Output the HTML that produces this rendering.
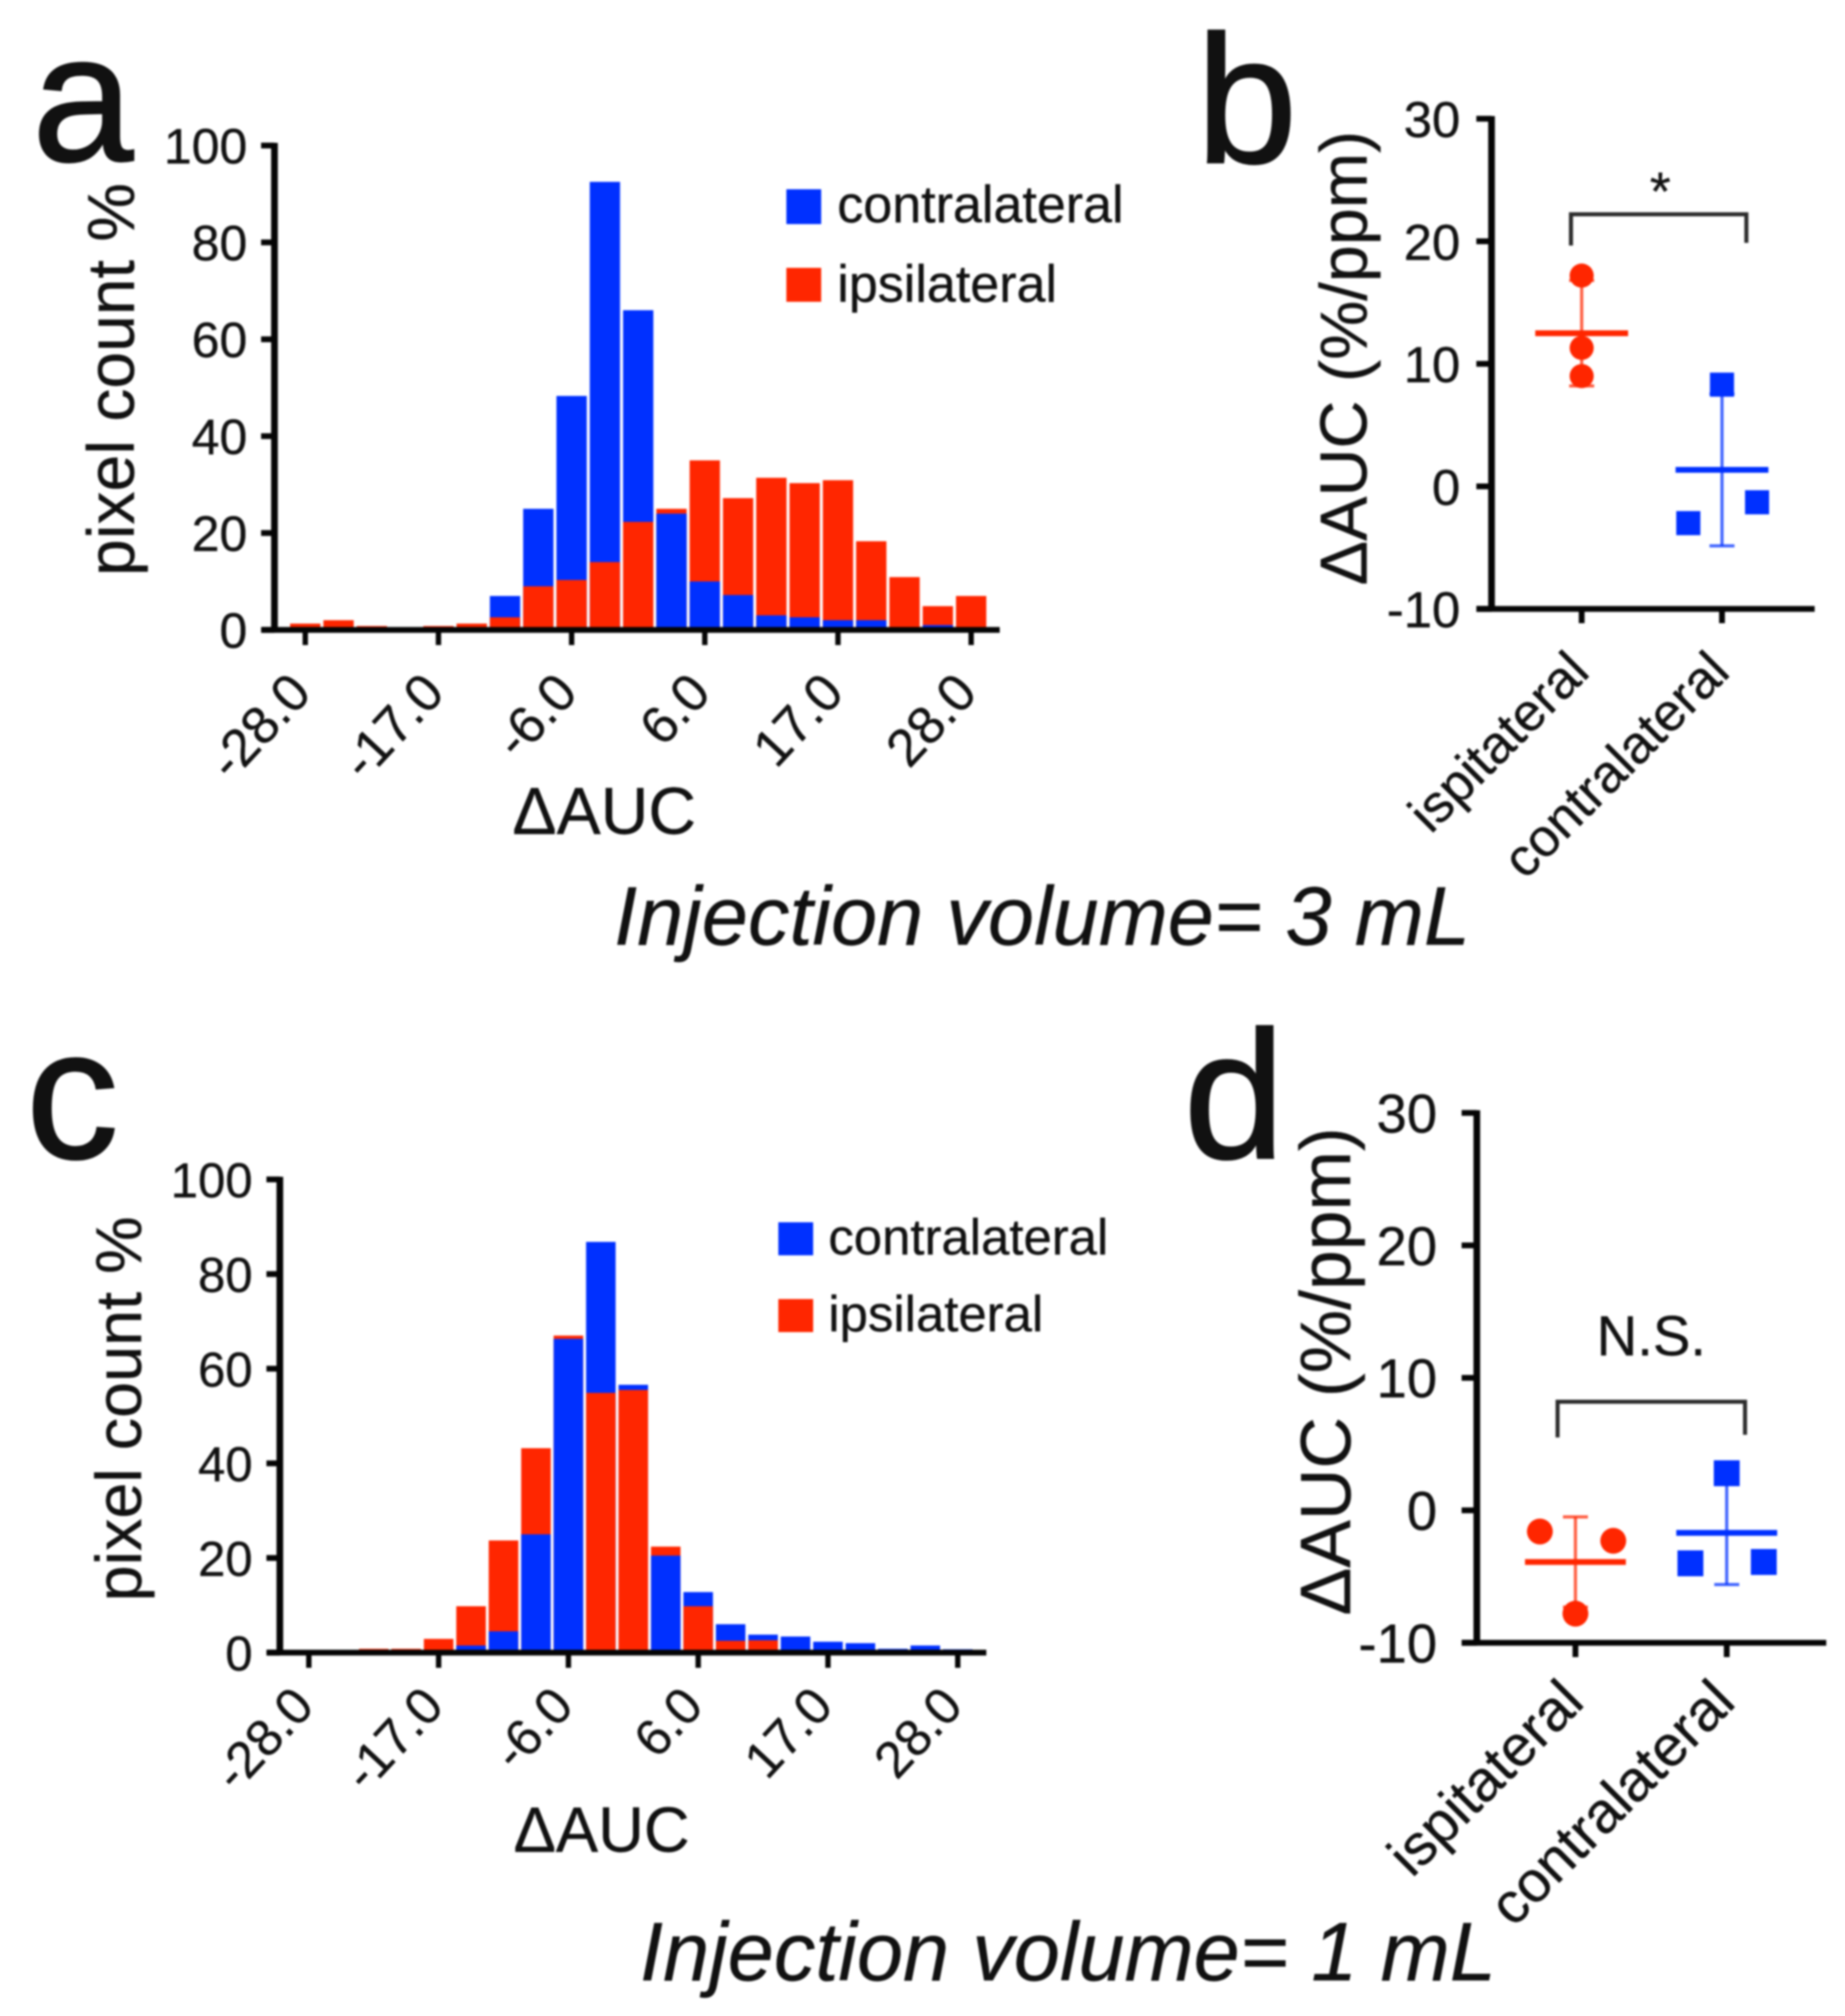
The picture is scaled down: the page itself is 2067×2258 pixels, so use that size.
<!DOCTYPE html>
<html lang="en">
<head>
<meta charset="utf-8">
<title>Injection volume AUC figure</title>
<style>
html,body{margin:0;padding:0;background:#fff;}
svg{display:block;filter:blur(1px);}
text{font-family:"Liberation Sans",sans-serif;fill:#111;stroke:#111;stroke-width:.4px;}
text.big{stroke-width:2px;}
</style>
</head>
<body>
<svg id="fig" xmlns="http://www.w3.org/2000/svg" width="2067" height="2258" viewBox="0 0 2067 2258">
  <rect x="0" y="0" width="2067" height="2258" fill="#fff"/>

  <text class="big" x="36" y="180" font-size="204">a</text>
  <text class="big" x="1340" y="182" font-size="204">b</text>
  <text class="big" x="29" y="1297" font-size="208">c</text>
  <text class="big" x="1326" y="1297" font-size="204">d</text>

  <g id="panel-a"></g>
  <g id="panel-b"></g>
  <g id="panel-c"></g>
  <g id="panel-d"></g>

  <text transform="translate(150,425) rotate(-90)" text-anchor="middle" font-size="74">pixel count %</text>
  <text x="677" y="934" text-anchor="middle" font-size="74">ΔAUC</text>
  <text transform="translate(158,1578) rotate(-90)" text-anchor="middle" font-size="72.5">pixel count %</text>
  <text x="674" y="2074" text-anchor="middle" font-size="71">ΔAUC</text>
  <text transform="translate(1531,401) rotate(-90)" text-anchor="middle" font-size="74.5">ΔAUC (%/ppm)</text>
  <text transform="translate(1512.5,1536) rotate(-90)" text-anchor="middle" font-size="80">ΔAUC (%/ppm)</text>

  <g>
    <rect x="881" y="212" width="39" height="39" fill="#0030ff"/>
    <text x="938" y="249" font-size="58.3">contralateral</text>
    <rect x="881" y="300" width="39" height="38" fill="#ff2600"/>
    <text x="938" y="338" font-size="58.3">ipsilateral</text>
  </g>
  <g>
    <rect x="872" y="1369" width="39" height="37" fill="#0030ff"/>
    <text x="928" y="1405" font-size="57">contralateral</text>
    <rect x="872" y="1455" width="39" height="37" fill="#ff2600"/>
    <text x="928" y="1491" font-size="57">ipsilateral</text>
  </g>

  <path d="M1760 275V240H1956.5V272" fill="none" stroke="#2a2a2a" stroke-width="4.5"/>
  <text x="1860" y="235" text-anchor="middle" font-size="60">*</text>
  <path d="M1745 1610V1570H1955V1607" fill="none" stroke="#2a2a2a" stroke-width="4.5"/>
  <text x="1850" y="1518" text-anchor="middle" font-size="63">N.S.</text>

  <text x="688" y="1058" font-size="93" font-style="italic">Injection volume= 3 mL</text>
  <text x="717" y="2218" font-size="93" font-style="italic">Injection volume= 1 mL</text>
</svg>

<script>
// ---------- histogram data ----------
const histCategories = [-28,-25,-22,-20,-17,-14,-11,-9,-6,-3,0,3,6,9,11,14,17,20,22,25,28];
const histTickValues = [-28,-17,-6,6,17,28];
const histTickLabels = ['-28.0','-17.0','-6.0','6.0','17.0','28.0'];
const histYTicks = [0,20,40,60,80,100];
const panelAContra = [0,0,0,0,0,0,7,25,48.3,92.5,66,24,10,7.2,3,2.6,2,2,0,1,0];
const panelAIpsi   = [1.3,2,0.8,0,0.8,1.3,2.6,9,10.3,14,22.3,25,35,27.2,31.4,30.3,30.9,18.3,10.9,4.9,7];
const panelCContra = [0,0,0,0,0.5,1.5,4.5,25,66.3,86.8,56.6,20.5,12.8,6,3.8,3.4,2.3,2,0.8,1.5,0.7];
const panelCIpsi   = [0,0,0.8,0.8,2.9,9.8,23.7,43.2,67,54.9,55.5,22.4,9.8,2.5,2.6,0,0,0,0,0,0];

// ---------- scatter data ----------
const scatterGroups = ['ispitateral','contralateral'];
const scatterYTicks = [-10,0,10,20,30];
const panelBIpsiValues = [17.2,11.3,9];
const panelBIpsiJitter = [0,0,0];
const panelBIpsiStats = [12.5,4.3];
const panelBContraValues = [8.3,-3,-1.3];
const panelBContraJitter = [0,-0.24,0.25];
const panelBContraStats = [1.35,6.2];
const panelDIpsiValues = [-1.6,-2.3,-7.8];
const panelDIpsiJitter = [-0.235,0.25,0];
const panelDIpsiStats = [-3.9,3.4];
const panelDContraValues = [2.8,-4,-3.9];
const panelDContraJitter = [0,-0.24,0.245];
const panelDContraStats = [-1.7,3.9];

const NS = 'http://www.w3.org/2000/svg';
const BLUE = '#0030ff';
const RED = '#ff2600';
const INK = '#050505';

function linear(d0, d1, r0, r1) {
  return function (v) { return r0 + (v - d0) * (r1 - r0) / (d1 - d0); };
}
function make(tag, parent, attrs, content) {
  const n = document.createElementNS(NS, tag);
  Object.keys(attrs).forEach(function (k) { n.setAttribute(k, attrs[k]); });
  if (content !== undefined) n.textContent = content;
  parent.appendChild(n);
  return n;
}

function drawHistogram(g, contra, ipsi, o) {
  const y = linear(0, 100, o.y0, o.y100);
  const x = function (cat) { return o.x0 + o.step * histCategories.indexOf(cat); };
  const barW = o.step * 0.91;

  histCategories.forEach(function (cat, i) {
    const series = [
      { v: contra[i], color: BLUE, nm: 'bar-contralateral' },
      { v: ipsi[i], color: RED, nm: 'bar-ipsilateral' }
    ].sort(function (p, q) { return q.v - p.v; });
    series.forEach(function (s) {
      if (s.v <= 0) return;
      const r = make('rect', g, {
        x: x(cat) - barW / 2,
        y: y(s.v),
        width: barW,
        height: y(0) - y(s.v),
        fill: s.color
      });
      
      
    });
  });

  const yAxis = make('line', g, { x1: o.axisX, x2: o.axisX, y1: o.y100 - 3, y2: o.y0, stroke: INK, 'stroke-width': 7.5 });
  
  
  const xAxis = make('line', g, { x1: o.axisX - 14, x2: o.xEnd, y1: o.y0, y2: o.y0, stroke: INK, 'stroke-width': 6.5 });
  
  

  histYTicks.forEach(function (t) {
    const m = make('line', g, { x1: o.axisX - 15, x2: o.axisX, y1: y(t), y2: y(t), stroke: INK, 'stroke-width': 6.5 });
    
    
    const l = make('text', g, { x: o.labelRight, y: y(t) + o.fs * 0.36, 'text-anchor': 'end', 'font-size': o.fs }, String(t));
    
    
  });
  histTickValues.forEach(function (t, i) {
    const px = x(t);
    const m = make('line', g, { x1: px, x2: px, y1: o.y0, y2: o.y0 + 17, stroke: INK, 'stroke-width': 6 });
    
    
    const l = make('text', g, {
      transform: 'translate(' + (px + o.labelDx) + ',' + o.labelY + ') rotate(-47)',
      'text-anchor': 'end',
      'font-size': o.tickFs
    }, histTickLabels[i]);
    
    
  });
}

function drawGroup(g, values, jitter, stats, groupIndex, kind, o, y) {
  const color = kind === 'circle' ? RED : BLUE;
  const cx = o.x0 + o.band * groupIndex;
  const half = o.meanHalf;
  const stem = make('line', g, { x1: cx, x2: cx, y1: y(stats[0] + stats[1]), y2: y(stats[0] - stats[1]), stroke: color, 'stroke-width': 3.5, 'stroke-opacity': 0.75 });
  
  
  [stats[0] + stats[1], stats[0] - stats[1]].forEach(function (v) {
    const cap = make('line', g, { x1: cx - 14, x2: cx + 14, y1: y(v), y2: y(v), stroke: color, 'stroke-width': 3.5, 'stroke-opacity': 0.75 });
    
    
  });
  const mean = make('line', g, { x1: cx - half, x2: cx + half, y1: y(stats[0]), y2: y(stats[0]), stroke: color, 'stroke-width': 6.5 });
  
  
  values.forEach(function (v, i) {
    const px = cx + jitter[i] * o.band;
    let p;
    if (kind === 'circle') {
      p = make('circle', g, { cx: px, cy: y(v), r: o.marker / 2, fill: color });
    } else {
      p = make('rect', g, { x: px - o.marker / 2, y: y(v) - o.marker / 2, width: o.marker, height: o.marker, fill: color });
    }
    
    
  });
}

function drawScatter(g, ipsiV, ipsiJ, ipsiS, contraV, contraJ, contraS, o) {
  const y = linear(-10, 30, o.yBottom, o.yTop);
  const yAxis = make('line', g, { x1: o.axisX, x2: o.axisX, y1: o.yTop - 3, y2: o.yBottom, stroke: INK, 'stroke-width': 7.5 });
  
  
  const xAxis = make('line', g, { x1: o.axisX - 17, x2: o.xEnd, y1: o.yBottom, y2: o.yBottom, stroke: INK, 'stroke-width': 6.5 });
  
  

  scatterYTicks.forEach(function (t) {
    const m = make('line', g, { x1: o.axisX - 17, x2: o.axisX, y1: y(t), y2: y(t), stroke: INK, 'stroke-width': 6.5 });
    
    
    const l = make('text', g, { x: o.labelRight, y: y(t) + o.fs * 0.36, 'text-anchor': 'end', 'font-size': o.fs }, String(t));
    
    
  });
  scatterGroups.forEach(function (name, i) {
    const px = o.x0 + o.band * i;
    const m = make('line', g, { x1: px, x2: px, y1: o.yBottom, y2: o.yBottom + 16, stroke: INK, 'stroke-width': 6.5 });
    
    
    const l = make('text', g, {
      transform: 'translate(' + (px + o.labelDx) + ',' + o.labelY + ') rotate(-45)',
      'text-anchor': 'end',
      'font-size': o.catFs
    }, name);
    
    
  });
  drawGroup(g, ipsiV, ipsiJ, ipsiS, 0, 'circle', o, y);
  drawGroup(g, contraV, contraJ, contraS, 1, 'square', o, y);
}

drawHistogram(document.getElementById('panel-a'), panelAContra, panelAIpsi, {
  x0: 342, step: 37.3, y0: 705.5, y100: 163, axisX: 307.5, xEnd: 1120,
  labelRight: 277, fs: 56, tickFs: 59, labelDx: 9, labelY: 778
});
drawHistogram(document.getElementById('panel-c'), panelCContra, panelCIpsi, {
  x0: 346, step: 36.35, y0: 1851, y100: 1321, axisX: 313.5, xEnd: 1105,
  labelRight: 283, fs: 55, tickFs: 57.5, labelDx: 8, labelY: 1913
});
drawScatter(document.getElementById('panel-b'), panelBIpsiValues, panelBIpsiJitter, panelBIpsiStats, panelBContraValues, panelBContraJitter, panelBContraStats, {
  axisX: 1671, xEnd: 2033, yTop: 133, yBottom: 682, x0: 1772, band: 157.2, meanHalf: 52, marker: 27,
  fs: 57, labelRight: 1636, catFs: 59.5, labelDx: 11, labelY: 755
});
drawScatter(document.getElementById('panel-d'), panelDIpsiValues, panelDIpsiJitter, panelDIpsiStats, panelDContraValues, panelDContraJitter, panelDContraStats, {
  axisX: 1654.5, xEnd: 2046, yTop: 1246.5, yBottom: 1840, x0: 1765, band: 169.5, meanHalf: 56.5, marker: 29,
  fs: 61, labelRight: 1610, catFs: 64.5, labelDx: 12, labelY: 1909
});
</script>
</body>
</html>
